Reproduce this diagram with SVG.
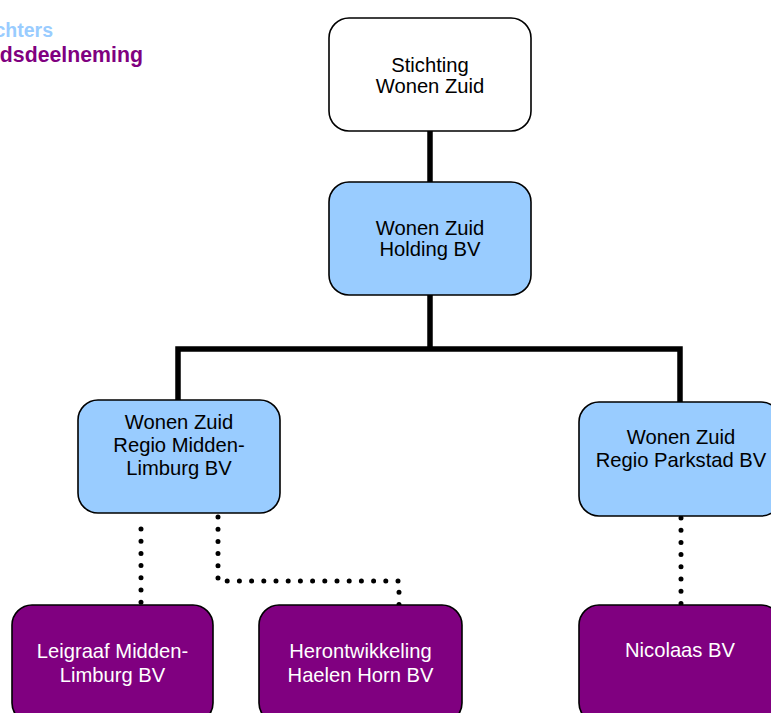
<svg xmlns="http://www.w3.org/2000/svg" width="771" height="713" viewBox="0 0 771 713">
<style>
.box{stroke:#000;stroke-width:1.6}
.white{fill:#fff}
.blue{fill:#99CCFF}
.purple{fill:#800080}
.t{font-family:"Liberation Sans",Arial,sans-serif;font-size:20.2px;text-anchor:middle;fill:#000}
.tw{fill:#fff}
.solid{fill:none;stroke:#000;stroke-width:5.5}
.dot{fill:none;stroke:#000;stroke-width:5;stroke-linecap:round;stroke-dasharray:0 12.2}
.leg{font-family:"Liberation Sans",Arial,sans-serif;font-size:21.3px;font-weight:bold;text-anchor:end}
</style>
<rect width="771" height="713" fill="#fff"/>
<g id="legend">
<text class="leg" x="53" y="37" fill="#99CCFF" style="font-size:19.5px">chters</text>
<text class="leg" x="143" y="62" fill="#800080">dsdeelneming</text>
</g>
<g id="connectors">
<path class="solid" d="M430 131 V182"/>
<path class="solid" d="M430 295 V349 M178 400 V349 H680 V402"/>
<path class="dot" d="M141 529 V605"/>
<path class="dot" d="M218 517 V581 H399 V605"/>
<path class="dot" d="M681 518 V605"/>
</g>
<g id="stichting">
<rect class="box white" x="329" y="18" width="202" height="113" rx="20"/>
<text class="t" x="430" y="72">Stichting</text>
<text class="t" x="430" y="93">Wonen Zuid</text>
</g>
<g id="holding">
<rect class="box blue" x="329" y="182" width="202" height="113" rx="20"/>
<text class="t" x="430" y="235">Wonen Zuid</text>
<text class="t" x="430" y="256">Holding BV</text>
</g>
<g id="midden-limburg">
<rect class="box blue" x="78" y="400" width="202" height="113" rx="20"/>
<text class="t" x="179" y="429">Wonen Zuid</text>
<text class="t" x="179" y="452">Regio Midden-</text>
<text class="t" x="179" y="475">Limburg BV</text>
</g>
<g id="parkstad">
<rect class="box blue" x="579" y="402" width="202" height="114" rx="20"/>
<text class="t" x="681" y="444">Wonen Zuid</text>
<text class="t" x="681" y="467">Regio Parkstad BV</text>
</g>
<g id="leigraaf">
<rect class="box purple" x="12" y="605" width="201" height="118" rx="20"/>
<text class="t tw" x="112.5" y="658">Leigraaf Midden-</text>
<text class="t tw" x="112.5" y="682">Limburg BV</text>
</g>
<g id="herontwikkeling">
<rect class="box purple" x="259" y="605" width="203" height="118" rx="20"/>
<text class="t tw" x="360.5" y="658">Herontwikkeling</text>
<text class="t tw" x="360.5" y="682">Haelen Horn BV</text>
</g>
<g id="nicolaas">
<rect class="box purple" x="579" y="605" width="202" height="118" rx="20"/>
<text class="t tw" x="680" y="657">Nicolaas BV</text>
</g>
</svg>
